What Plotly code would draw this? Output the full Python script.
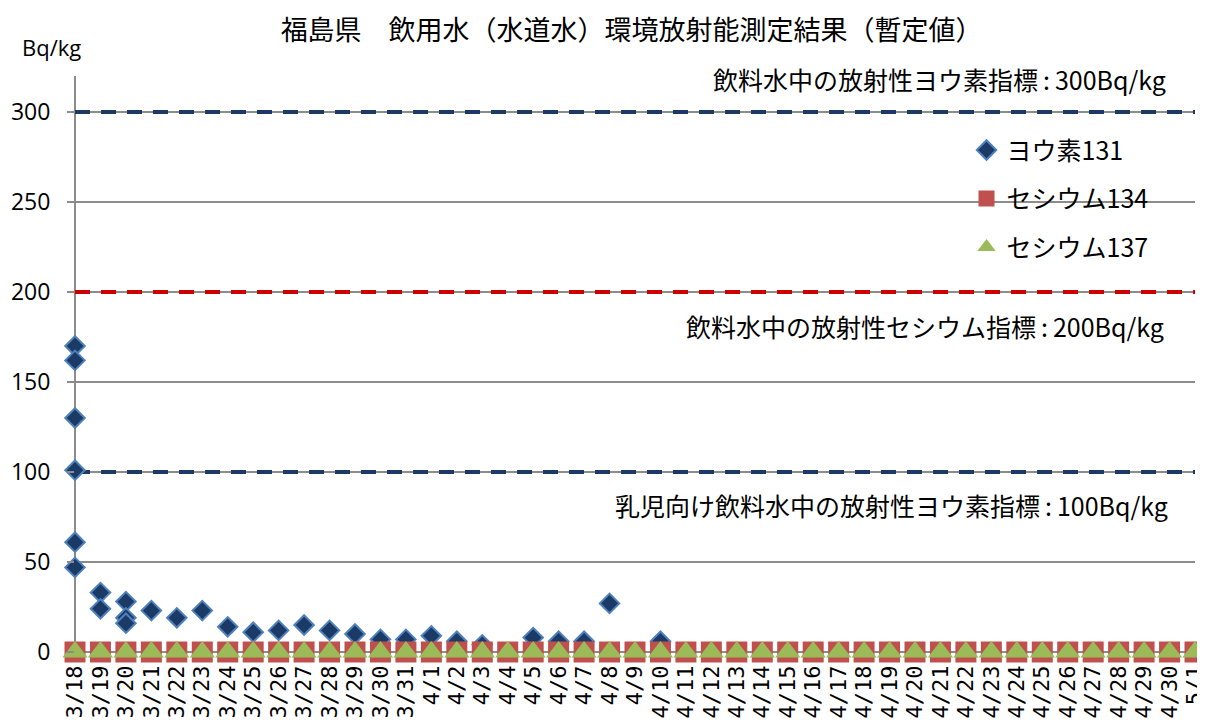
import plotly.graph_objects as go

dates = ["3/18","3/19","3/20","3/21","3/22","3/23","3/24","3/25","3/26","3/27",
         "3/28","3/29","3/30","3/31","4/1","4/2","4/3","4/4","4/5","4/6",
         "4/7","4/8","4/9","4/10","4/11","4/12","4/13","4/14","4/15","4/16",
         "4/17","4/18","4/19","4/20","4/21","4/22","4/23","4/24","4/25","4/26",
         "4/27","4/28","4/29","4/30","5/1"]

iodine_dates = ["3/18","3/18","3/18","3/18","3/18","3/18","3/19","3/19","3/20","3/20",
                "3/20","3/21","3/22","3/23","3/24","3/25","3/26","3/27","3/28","3/29",
                "3/30","3/31","4/1","4/2","4/3","4/5","4/6","4/7","4/8","4/10"]
iodine_values = [170,162,130,101,61,47,33,24,28,19,
                 16,23,19,23,14,11,12,15,12,10,
                 7,7,9,6,4,8,6,6,27,6]

cs134_values = [0]*45
cs137_values = [0]*45

limit_iodine = [300]*45
limit_cesium = [200]*45
limit_infant = [100]*45

limit_texts = ["飲料水中の放射性ヨウ素指標\u2009:\u2009300Bq/kg",
               "飲料水中の放射性セシウム指標\u2009:\u2009200Bq/kg",
               "乳児向け飲料水中の放射性ヨウ素指標\u2009:\u2009100Bq/kg"]
series_names = ["ヨウ素131", "セシウム134", "セシウム137"]
title_text = "福島県　飲用水（水道水）環境放射能測定結果（暫定値）"

JP = "Noto Sans CJK JP"
NAVY = "#1B3A66"

fig = go.Figure()

for vals, col in [(limit_iodine, NAVY), (limit_cesium, "#CC0000"), (limit_infant, NAVY)]:
    fig.add_trace(go.Scatter(x=dates, y=vals, mode="lines", showlegend=False,
                             hoverinfo="skip",
                             line=dict(color=col, width=4, dash="15px,11px")))

fig.add_trace(go.Scatter(x=iodine_dates, y=iodine_values, mode="markers",
                         name=series_names[0], legendgroup="a",
                         marker=dict(symbol="diamond", size=15, color=NAVY,
                                     line=dict(color="#4F81BD", width=2)),
                         cliponaxis=False))
fig.add_trace(go.Scatter(x=dates, y=cs134_values, mode="markers",
                         name=series_names[1], legendgroup="b",
                         marker=dict(symbol="square", size=21, color="#C0504D",
                                     line=dict(width=0)),
                         cliponaxis=False))
fig.add_trace(go.Scatter(x=dates, y=cs137_values, mode="markers",
                         name=series_names[2], legendgroup="c",
                         marker=dict(symbol="triangle-up", size=22, color="#9BBB59",
                                     line=dict(width=0)),
                         cliponaxis=False))

anns = [
    dict(text=limit_texts[0], x=0.976, y=318.5),
    dict(text=limit_texts[1], x=0.974, y=181),
    dict(text=limit_texts[2], x=0.978, y=81.5),
]
annotations = []
for a in anns:
    annotations.append(dict(text=a["text"], x=a["x"], y=a["y"], xref="paper", yref="y",
                            xanchor="right", yanchor="middle", showarrow=False,
                            font=dict(family=JP, size=25, color="#000000")))
annotations.append(dict(text="Bq/kg", x=-0.049, y=1.050, xref="paper", yref="paper",
                        xanchor="left", yanchor="middle", showarrow=False,
                        font=dict(family="Open Sans", size=22, color="#000000")))

# page body has an 8px margin, so the figure is sized to fit the 1205x722 window
fig.update_layout(
    width=1197, height=714,
    margin=dict(l=67, r=10, t=68, b=70, autoexpand=False),
    paper_bgcolor="white", plot_bgcolor="white",
    title=dict(text=title_text, x=0.521, xanchor="center", y=0.969, yanchor="middle",
               font=dict(family=JP, size=27, color="#000000")),
    showlegend=True,
    legend=dict(x=0.796, y=0.911, xanchor="left", yanchor="top",
                traceorder="grouped", tracegroupgap=13,
                font=dict(family=JP, size=25, color="#000000"),
                bgcolor="rgba(0,0,0,0)"),
    annotations=annotations,
)

fig.update_xaxes(type="category", categoryorder="array", categoryarray=dates,
                 tickmode="array", tickvals=dates, ticktext=dates,
                 range=[0, 44], tickangle=-90, showgrid=False, automargin=False,
                 showline=False, zeroline=False, ticks="", ticklabelstandoff=8,
                 ticklabeloverflow="allow",
                 tickfont=dict(family="DejaVu Sans Mono", size=22, color="#000000"))
fig.update_yaxes(range=[0, 320], dtick=50, tick0=0, showgrid=True, automargin=False,
                 gridcolor="#8C8C8C", gridwidth=1.5,
                 zeroline=True, zerolinecolor="#8C8C8C", zerolinewidth=1.5,
                 showline=False, ticks="outside", ticklen=7, tickcolor="#8C8C8C",
                 tickwidth=1.5, ticklabelstandoff=12,
                 tickfont=dict(family="Open Sans", size=23, color="#000000"))

fig.add_shape(type="line", xref="paper", yref="paper", x0=0, x1=0, y0=0, y1=1,
              line=dict(color="#8C8C8C", width=2), layer="below")

fig.write_html("out.html")
